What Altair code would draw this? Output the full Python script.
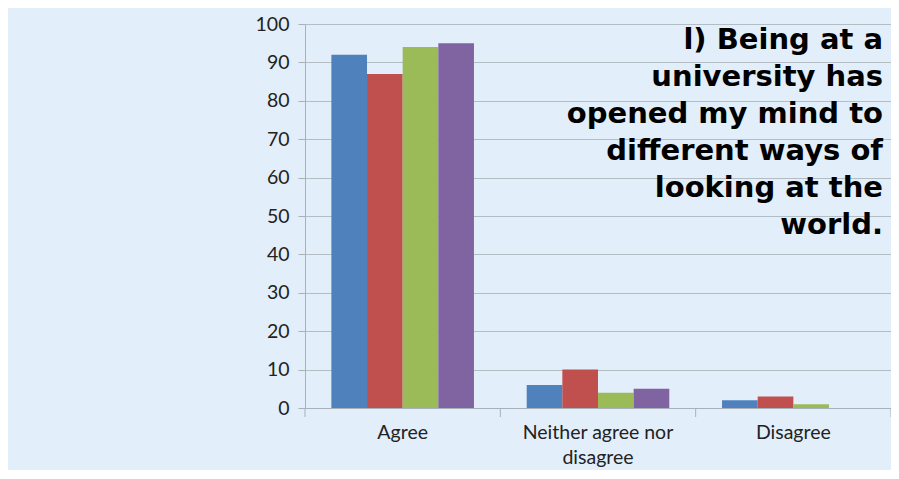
import altair as alt
import pandas as pd

categories = ["Agree", "Neither agree nor disagree", "Disagree"]
series = ["Series 1", "Series 2", "Series 3", "Series 4"]
values_s1 = [92, 6, 2]
values_s2 = [87, 10, 3]
values_s3 = [94, 4, 1]
values_s4 = [95, 5, 0]
colors = ["#4f81bd", "#c0504d", "#9bbb59", "#8064a2"]
title_text = "l) Being at a\nuniversity has\nopened my mind to\ndifferent ways of\nlooking at the\nworld."

rows = []
for s, vals in zip(series, [values_s1, values_s2, values_s3, values_s4]):
    for c, v in zip(categories, vals):
        rows.append({"category": c, "series": s, "value": v})
df = pd.DataFrame(rows)

W, H = 586, 384
BG = "#e2eefa"
FONT = "Lato"
AX = "#a9b0b8"

bars = alt.Chart(df).mark_bar().encode(
    x=alt.X("category:N", sort=categories, title=None,
            scale=alt.Scale(paddingInner=0.27, paddingOuter=0.135),
            axis=alt.Axis(labelAngle=0, labelFontSize=19.5, labelFont=FONT, labelColor="#222222",
                          labelPadding=15, labelLineHeight=25, ticks=False,
                          domainColor=AX, grid=False,
                          labelExpr="datum.label == 'Neither agree nor disagree' ? ['Neither agree nor', 'disagree'] : datum.label")),
    xOffset=alt.XOffset("series:N", sort=series, scale=alt.Scale(paddingInner=0, paddingOuter=0)),
    y=alt.Y("value:Q", title=None, scale=alt.Scale(domain=[0, 100], nice=False),
            axis=alt.Axis(values=list(range(0, 101, 10)), labelFontSize=19.5, labelFont=FONT,
                          labelColor="#222222", labelPadding=9, tickSize=7, tickColor=AX,
                          domainColor=AX, gridColor="#b4bcc4", gridWidth=1.2)),
    color=alt.Color("series:N", sort=series, scale=alt.Scale(domain=series, range=colors), legend=None),
)

# category-boundary ticks below the x axis
tick_df = pd.DataFrame({"px": [k * W / 3 for k in range(4)]})
xticks = alt.Chart(tick_df).mark_rule(color=AX, strokeWidth=1).encode(
    x=alt.X("px:Q", scale=None),
    y=alt.value(H), y2=alt.value(H + 9),
)

title_df = pd.DataFrame({"t": [title_text]})
title = alt.Chart(title_df).mark_text(
    align="right", baseline="top", font="DejaVu Sans", fontWeight="bold", fontSize=29,
    lineBreak="\n", lineHeight=37, color="#000000"
).encode(text="t:N", x=alt.value(578), y=alt.value(2))

chart = alt.layer(bars, xticks, title).properties(
    width=W, height=H, background=BG,
    padding={"left": 297, "top": 16, "right": 0, "bottom": 62},
    autosize=alt.AutoSizeParams(type="none"),
).configure_view(stroke=None, fill=BG)

chart.save("out.html", embed_options={"renderer": "svg", "actions": False})
